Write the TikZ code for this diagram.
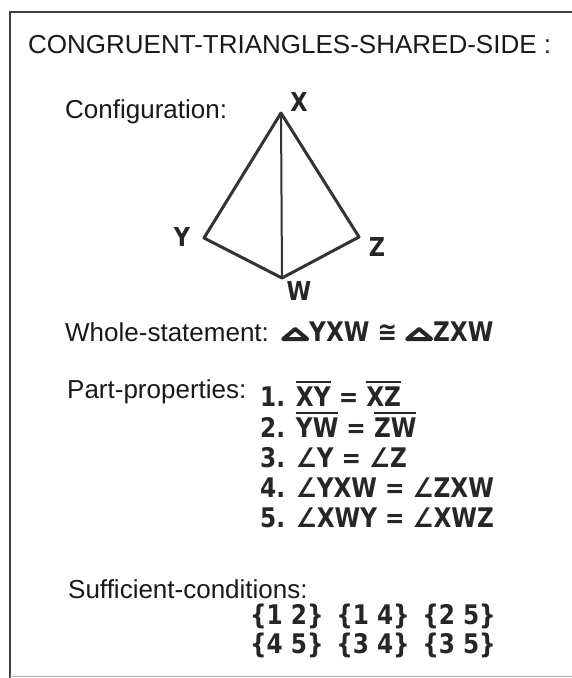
\documentclass[tikz,border=0pt]{standalone}
\usepackage{fontspec}
\setmainfont{Liberation Sans}
\newfontfamily\symfont{DejaVu Sans}[FakeStretch=0.86]
\usetikzlibrary{positioning}

% segment with a thick bar over it
\newcommand{\seg}[1]{\setbox0\hbox{#1}\rlap{\raisebox{\dimexpr\ht0+3pt\relax}{\rule{\wd0}{2.8pt}}}\box0\relax}
% small thick triangle sign
\newcommand{\tri}{\tikz[baseline=0pt]\draw[line width=4pt, line join=round] (2pt,2pt) -- (26pt,2pt) -- (14pt,12pt) -- cycle;}

\begin{document}
\begin{tikzpicture}[x=1pt, y=-1pt,
    txt/.style={anchor=west, inner sep=0pt, font=\fontsize{26}{30}\selectfont, text=black!90},
    frm/.style={anchor=base west, inner sep=0pt, font=\symfont\bfseries\fontsize{27}{30}\selectfont, text=black!85},
    vtx/.style={inner sep=0pt, font=\symfont\bfseries\fontsize{26}{30}\selectfont, text=black!85},
    side/.style={line width=3pt, line join=round, draw=black!80}]
  \useasboundingbox (0,0) rectangle (572,678);
  % frame
  \draw[line width=2.5pt, black!75] (10,678) -- (10,12) -- (572,12);
  \draw[line width=1pt, black!30] (10,676) -- (572,676);
  \node[txt] (title) at (28,45) {CONGRUENT-TRIANGLES-SHARED-SIDE :};
  % configuration
  \node[txt] (config) at (65,112) {Configuration:};
  \coordinate (X) at (281,113);
  \coordinate (Y) at (204,238);
  \coordinate (Z) at (359,237);
  \coordinate (W) at (282,278);
  \draw[side] (X) -- (Y) -- (W) -- (Z) -- cycle;
  \draw[line width=2pt, black!80] (X) -- (W);
  \node[vtx] (lX) at (299,102) {X};
  \node[vtx] (lY) at (182,237) {Y};
  \node[vtx] (lZ) at (377,247) {Z};
  \node[vtx] (lW) at (299,291) {W};
  % whole statement
  \node[txt] (whole) at (65,332) {Whole-statement:};
  \node[frm] (wholeF) at (281,341) {\tri YXW ≅ \tri ZXW};
  % part properties
  \node[txt] (part) at (67,392) {Part-properties:};
  \node[frm] (p1) at (260,406) {1. \seg{XY} = \seg{XZ}};
  \node[frm] (p2) at (260,437) {2. \seg{YW} = \seg{ZW}};
  \node[frm] (p3) at (260,467) {3. ∠Y = ∠Z};
  \node[frm] (p4) at (260,497) {4. ∠YXW = ∠ZXW};
  \node[frm] (p5) at (260,527) {5. ∠XWY = ∠XWZ};
  % sufficient conditions
  \node[txt] (suff) at (68,589) {Sufficient-conditions:};
  \node[frm] (s1) at (250,624) {\{1 2\}\,\ \{1 4\}\,\ \{2 5\}};
  \node[frm] (s2) at (250,653) {\{4 5\}\,\ \{3 4\}\,\ \{3 5\}};
\end{tikzpicture}
\end{document}
